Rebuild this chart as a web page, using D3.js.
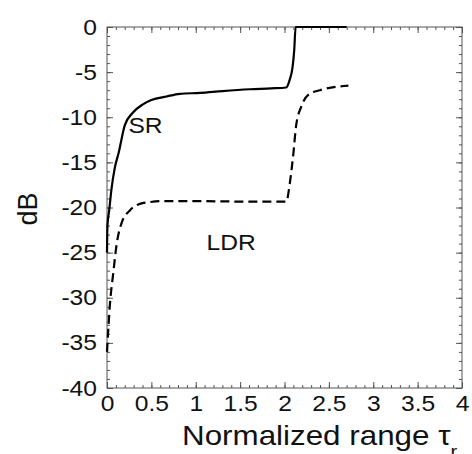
<!DOCTYPE html>
<html>
<head>
<meta charset="utf-8">
<script src="https://cdn.jsdelivr.net/npm/d3@7"></script>
<style>
html,body{margin:0;padding:0;background:#fff;}
svg{display:block;font-family:"Liberation Sans",Arial,Helvetica,sans-serif;}
</style>
</head>
<body>
<svg id="chart" width="472" height="454"></svg>
<script>
// ---- data ----
const srTau = [0, 0.005, 0.025, 0.05, 0.09, 0.13, 0.2, 0.29, 0.4, 0.5, 0.67, 0.82, 1.05, 1.3, 1.61, 1.85, 2.02, 2.06, 2.09, 2.11, 2.125, 2.4, 2.7];
const srDB  = [-25, -22, -20.3, -18, -15.5, -14, -10.9, -9.5, -8.6, -8.1, -7.7, -7.4, -7.3, -7.1, -6.9, -6.8, -6.7, -5.8, -4.5, -2.5, 0, 0, 0];
const ldrTau = [0, 0.034, 0.07, 0.11, 0.165, 0.26, 0.37, 0.48, 0.6, 0.82, 1.05, 1.61, 2.02, 2.06, 2.10, 2.13, 2.19, 2.27, 2.4, 2.72];
const ldrDB  = [-36, -30.6, -27.3, -24, -21.7, -20.3, -19.6, -19.4, -19.3, -19.3, -19.3, -19.35, -19.35, -17.3, -14, -11, -8.8, -7.5, -7.0, -6.5];
const xMajor = [0, 0.5, 1, 1.5, 2, 2.5, 3, 3.5, 4];
const yMajor = [0, -5, -10, -15, -20, -25, -30, -35, -40];
const seriesLabels = ["SR", "LDR"];

const svg = d3.select("#chart");
const L = 107, R = 462, T = 27, B = 388;
const SX = 1.12; // horizontal stretch of lettering in the reference
const x = d3.scaleLinear().domain([0, 4]).range([L, R]);
const y = d3.scaleLinear().domain([0, -40]).range([T, B]);

const xMinor = d3.range(0, 4.0001, 0.1).map(v => +v.toFixed(2));
const yMinor = d3.range(0, -40.0001, -1);

const fmt = d => String(d);
const axisColor = "#555";

function styleAxis(g) {
  g.select(".domain").remove();
  g.selectAll("line").attr("stroke", axisColor).attr("stroke-width", 1);
  g.selectAll("text").attr("fill", "#111");
}
function stretchLabels(g) {
  g.selectAll("text").each(function () {
    const t = d3.select(this);
    const xx = +t.attr("x") || 0;
    const yy = +t.attr("y") || 0;
    t.attr("x", 0).attr("y", 0)
     .attr("transform", `translate(${xx},${yy}) scale(${SX},1)`)
     .attr("font-size", 22);
  });
}

// bottom
svg.append("g").attr("transform", `translate(0,${B})`)
  .call(d3.axisBottom(x).tickValues(xMinor).tickSize(-3).tickFormat(""))
  .call(styleAxis);
svg.append("g").attr("transform", `translate(0,${B})`)
  .call(d3.axisBottom(x).tickValues(xMajor).tickSize(-6).tickPadding(7).tickFormat(fmt))
  .call(styleAxis)
  .call(stretchLabels);
// top
svg.append("g").attr("transform", `translate(0,${T})`)
  .call(d3.axisTop(x).tickValues(xMinor).tickSize(-3).tickFormat(""))
  .call(styleAxis);
svg.append("g").attr("transform", `translate(0,${T})`)
  .call(d3.axisTop(x).tickValues(xMajor).tickSize(-6).tickFormat(""))
  .call(styleAxis);
// left
svg.append("g").attr("transform", `translate(${L},0)`)
  .call(d3.axisLeft(y).tickValues(yMinor).tickSize(-3).tickFormat(""))
  .call(styleAxis);
svg.append("g").attr("transform", `translate(${L},0)`)
  .call(d3.axisLeft(y).tickValues(yMajor).tickSize(-6).tickPadding(10).tickFormat(fmt))
  .call(styleAxis)
  .call(stretchLabels);
// right
svg.append("g").attr("transform", `translate(${R},0)`)
  .call(d3.axisRight(y).tickValues(yMinor).tickSize(-3).tickFormat(""))
  .call(styleAxis);
svg.append("g").attr("transform", `translate(${R},0)`)
  .call(d3.axisRight(y).tickValues(yMajor).tickSize(-6).tickFormat(""))
  .call(styleAxis);

// frame
svg.append("rect").attr("x", L).attr("y", T).attr("width", R - L).attr("height", B - T)
  .attr("fill", "none").attr("stroke", axisColor).attr("stroke-width", 1);

const line = d3.line().x(d => x(d[0])).y(d => y(d[1])).curve(d3.curveMonotoneX);

svg.append("path").datum(srTau.map((t, i) => [t, srDB[i]]))
  .attr("d", line).attr("fill", "none").attr("stroke", "#000").attr("stroke-width", 2.2);
svg.append("path").datum(ldrTau.map((t, i) => [t, ldrDB[i]]))
  .attr("d", line).attr("fill", "none").attr("stroke", "#000").attr("stroke-width", 2.2)
  .attr("stroke-dasharray", "9,5");

// series labels
svg.append("text").attr("transform", `translate(${x(0.434)},${y(-11.75)}) scale(${SX},1)`)
  .attr("text-anchor", "middle").attr("font-size", 22).attr("fill", "#111").text(seriesLabels[0]);
svg.append("text").attr("transform", `translate(${x(1.40)},${y(-24.7)}) scale(${SX},1)`)
  .attr("text-anchor", "middle").attr("font-size", 22).attr("fill", "#111").text(seriesLabels[1]);

// axis titles
svg.append("text").attr("transform", "translate(37,209) rotate(-90)")
  .attr("text-anchor", "middle").attr("font-size", 27).attr("fill", "#111").text("dB");
const xt = svg.append("text").attr("transform", `translate(182,445) scale(${SX},1)`)
  .attr("font-size", 28).attr("fill", "#111");
xt.append("tspan").text("Normalized range τ");
xt.append("tspan").attr("font-size", 18).attr("dy", 13).text("r");
</script>
</body>
</html>
